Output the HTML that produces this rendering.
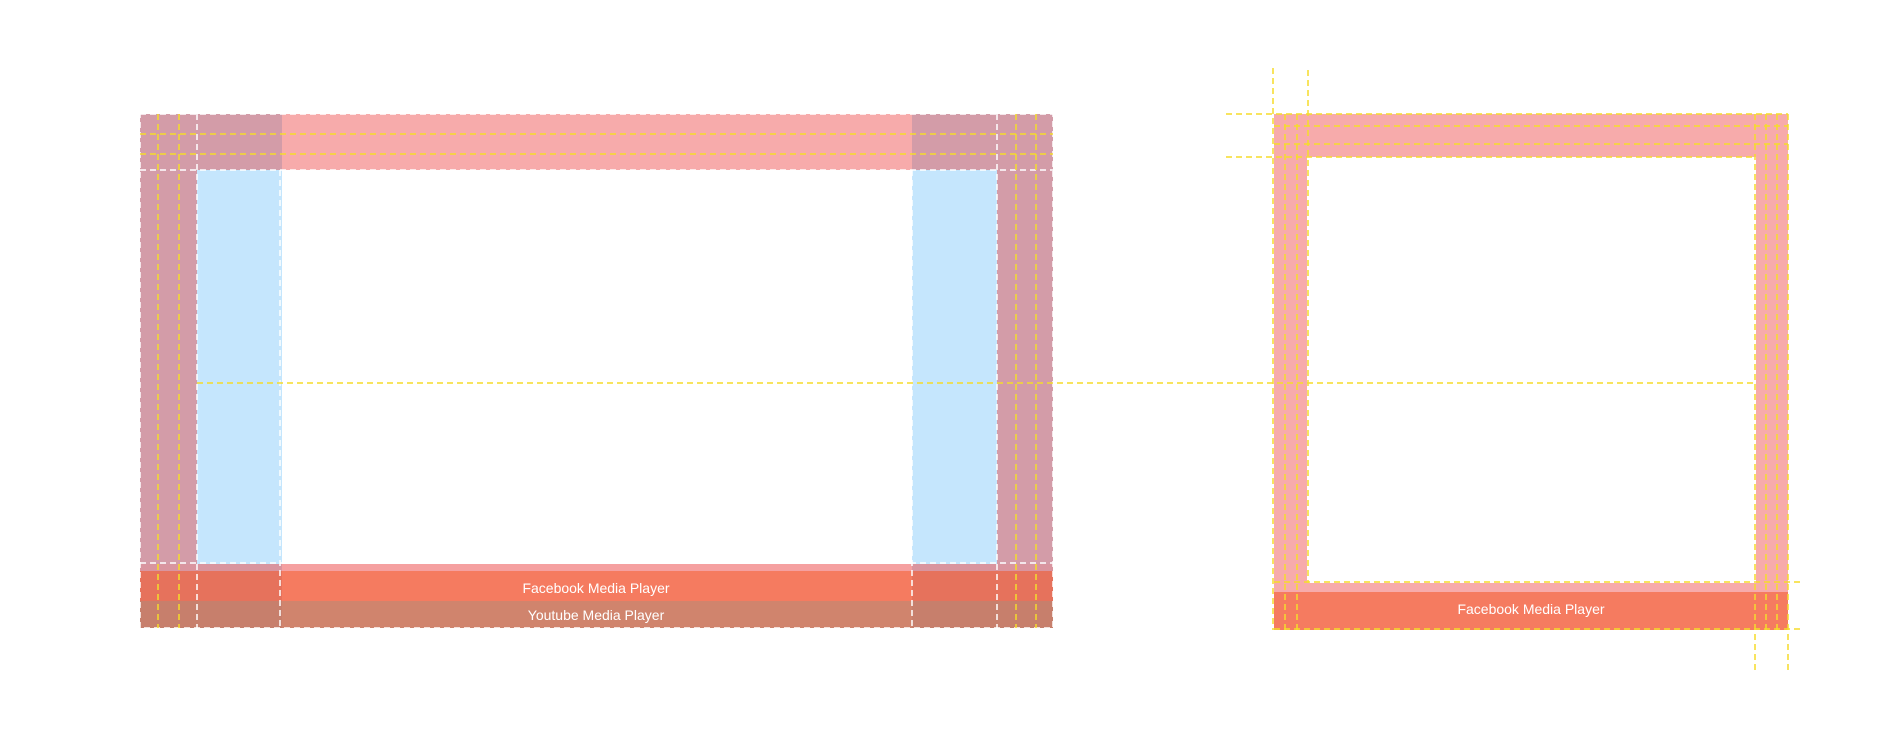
<!DOCTYPE html><html><head><style>body{margin:0;background:#fff}svg{display:block}</style></head><body>
<svg width="1900" height="752" xmlns="http://www.w3.org/2000/svg" font-family="Liberation Sans, sans-serif">
<rect x="140" y="114" width="913" height="56" fill="#f7abab"/>
<rect x="140" y="114" width="142" height="450" fill="#d39ca8"/>
<rect x="912" y="114" width="141" height="450" fill="#d39ca8"/>
<rect x="197" y="170" width="85" height="394" fill="#c5e6fd"/>
<rect x="912" y="170" width="85" height="394" fill="#c5e6fd"/>
<rect x="140" y="170" width="57" height="394" fill="#d39ca8"/>
<rect x="997" y="170" width="56" height="394" fill="#d39ca8"/>
<rect x="140" y="564" width="913" height="7" fill="#f5a0a0"/>
<rect x="140" y="564" width="142" height="7" fill="#d9959f"/><rect x="912" y="564" width="141" height="7" fill="#d9959f"/>
<rect x="140" y="571" width="913" height="30" fill="#f57b60"/>
<rect x="140" y="571" width="142" height="30" fill="#e6725c"/><rect x="912" y="571" width="141" height="30" fill="#e6725c"/>
<rect x="140" y="601" width="913" height="27" fill="#d0846d"/>
<rect x="140" y="601" width="142" height="27" fill="#c77f6c"/><rect x="912" y="601" width="141" height="27" fill="#c77f6c"/>
<g stroke="#fff" stroke-dasharray="6,4" stroke-width="1.5" fill="none">
<rect x="140" y="114" width="913" height="514"/>
<line x1="140" y1="170" x2="1053" y2="170"/><line x1="140" y1="563" x2="1053" y2="563"/>
<line x1="197" y1="114" x2="197" y2="628"/><line x1="280" y1="170" x2="280" y2="628"/>
<line x1="997" y1="114" x2="997" y2="628"/><line x1="912" y1="170" x2="912" y2="628"/>
</g>
<g stroke="#f5dc2a" stroke-dasharray="6,4" stroke-width="1.5" fill="none">
<line x1="158" y1="114" x2="158" y2="628"/><line x1="179" y1="114" x2="179" y2="628"/>
<line x1="1016" y1="114" x2="1016" y2="628"/><line x1="1036" y1="114" x2="1036" y2="628"/>
<line x1="140" y1="134" x2="1053" y2="134"/><line x1="140" y1="154" x2="1053" y2="154"/>
</g>
<text x="596" y="593" fill="#fff" font-size="14" text-anchor="middle">Facebook Media Player</text>
<text x="596" y="620" fill="#fff" font-size="14" text-anchor="middle">Youtube Media Player</text>
<rect x="1274" y="114" width="514" height="478" fill="#f7abab"/>
<rect x="1307" y="157" width="449" height="426" fill="#fff"/>
<rect x="1274" y="592" width="514" height="38" fill="#f57b60"/>
<text x="1531" y="614" fill="#fff" font-size="14" text-anchor="middle">Facebook Media Player</text>
<g stroke="#f5dc2a" stroke-dasharray="6,4" stroke-width="1.5" fill="none">
<path d="M197 383 H1755"/>
<line x1="1273" y1="68" x2="1273" y2="630"/><line x1="1308" y1="70" x2="1308" y2="583"/>
<line x1="1285" y1="114" x2="1285" y2="630"/><line x1="1297" y1="114" x2="1297" y2="630"/>
<line x1="1226" y1="114" x2="1788" y2="114"/><line x1="1226" y1="157" x2="1756" y2="157"/>
<line x1="1274" y1="126" x2="1788" y2="126"/><line x1="1274" y1="144" x2="1788" y2="144"/>
<line x1="1755" y1="114" x2="1755" y2="674"/><line x1="1788" y1="114" x2="1788" y2="674"/>
<line x1="1766" y1="114" x2="1766" y2="630"/><line x1="1777" y1="114" x2="1777" y2="630"/>
<line x1="1274" y1="582" x2="1803" y2="582"/><line x1="1274" y1="629" x2="1803" y2="629"/>
</g>
</svg></body></html>
